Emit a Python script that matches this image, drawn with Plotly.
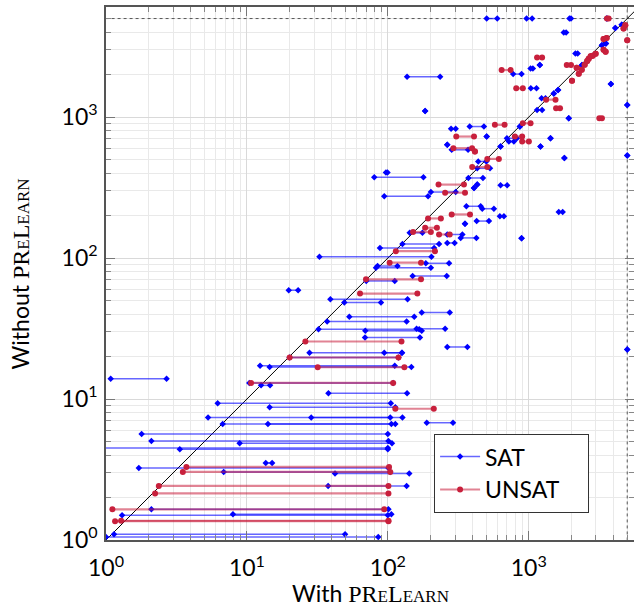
import plotly.graph_objects as go

TIMEOUT = 5000

# ---- SAT instances: time without PreLearn (y) and range of times with PreLearn (x) ----
sat_y = [1.05, 1.10, 1.50, 1.52, 1.65, 2.42, 3.04, 2.96, 3.24, 3.52,
         4.49, 4.40, 5.03, 4.85, 5.64, 6.64, 6.64, 6.79, 7.40, 7.40,
         8.75, 9.34, 11.0, 12.5, 13.0, 13.9, 17.2, 16.9, 19.7, 21.3,
         21.3, 22.5, 23.4, 27.3, 31.3, 30.5, 31.5, 35.5, 41.1, 38.3,
         51.1, 48.3, 59.1, 74.6, 68.8, 85.4, 87.8, 91.8, 102, 118,
         126, 128, 138, 147, 139, 151, 175, 183, 198, 212,
         224, 233, 274, 294, 314, 328, 332, 370, 374, 405,
         433, 485, 512, 534, 586, 619, 619, 636, 671, 708,
         708, 728, 826, 857, 857, 981, 1106, 1124, 1219, 1358,
         1473, 1557, 1599, 1718, 1933, 2019, 2213, 2339, 2825, 3325,
         3975, 4293, 5000, 5000, 5000, 5000, 2339, 3236, 4518]
sat_x_lo = [1.0, 1.14, 1.30, 7.96, 2.10, 37.7, 6.84, 42.2, 1.71, 13.6,
            0.9, 3.34, 2.10, 8.88, 1.79, 6.73, 14.1, 189, 5.30, 28.6,
            14.5, 6.2, 37.9, 12.6, 10.4, 1.08, 12.4, 14.5, 20.1, 27.8,
            94.3, 5000, 264, 68.9, 32.2, 69.2, 160, 37.1, 174, 53.3,
            39.1, 49.1, 19.8, 150, 70.3, 82.4, 84.6, 186, 32.7, 87.9,
            127, 264, 889, 264, 329, 143, 353, 427, 624, 1633,
            468, 361, 94.3, 202, 409, 631, 431, 373, 80.1, 97,
            431, 438, 1791, 5000, 284, 631, 1212, 264, 723, 700,
            1427, 503, 281, 381, 865, 1923, 184, 1146, 5000, 1233,
            1506, 1615, 1035, 3828, 137, 775, 1030, 1199, 2143, 3532,
            1772, 4114, 503, 965, 1944, 3586, 2388, 3306, 4571]
sat_x_hi = [85.5, 49.7, 100, 106, 101, 136, 104, 142, 101, 15.1,
            100, 100, 101, 107, 100, 106, 113, 290, 104, 127,
            113, 105, 137, 14.6, 109, 2.69, 112, 147, 119, 126,
            126, 5000, 367, 169, 167, 174, 255, 136, 275, 154,
            138, 89.4, 23.1, 262, 112, 202, 117, 272, 204, 213,
            231, 298, 889, 338, 425, 176, 353, 522, 667, 1742,
            566, 456, 193, 303, 409, 703, 431, 473, 179, 99.5,
            531, 500, 1791, 5000, 371, 631, 1212, 264, 784, 824,
            1427, 503, 303, 481, 865, 1923, 184, 1244, 5000, 1315,
            1506, 1615, 1135, 3828, 235, 889, 1070, 1199, 2225, 3532,
            1843, 4114, 598, 1057, 1995, 3586, 2388, 3306, 4571]

# ---- UNSAT instances ----
unsat_y = [1.65, 1.36, 1.37, 2.14, 2.42, 3.04, 3.30, 8.53, 13.0, 16.8,
           19.7, 25.6, 56.0, 70.7, 92.7, 112, 147, 153, 164, 191,
           204, 291, 332, 442, 505, 570, 602, 728, 728, 671,
           881, 904, 981, 1154, 1330, 1599, 1811, 2157, 2648, 2339,
           2590, 2721, 2811, 2168, 2237, 2350, 2029, 3586, 3645, 3000,
           2904, 4483, 4244, 3513, 5000, 2700, 2500]
unsat_x_lo = [1.11, 1.16, 1.28, 2.23, 2.37, 3.51, 3.72, 113, 10.7, 31.8,
              20.1, 26.0, 63.5, 70.0, 103, 114, 231, 151, 184, 193,
              284, 255, 229, 397, 508, 415, 292, 306, 797, 898,
              575, 908, 3170, 1563, 1328, 815, 2028, 642, 1146, 1862,
              2663, 2842, 2985, 2377, 2189, 2495, 2264, 3398, 3571, 3398,
              3513, 4842, 4710, 5000, 3590, 2750, 2600]
unsat_x_hi = [94.3, 101, 101, 101, 101, 104, 102, 212, 109, 131,
              119, 125, 162, 172, 172, 216, 275, 202, 223, 238,
              383, 353, 347, 508, 614, 415, 396, 409, 898, 1002,
              674, 1030, 3306, 1667, 1549, 908, 2028, 743, 1244, 1995,
              2663, 2842, 2985, 2377, 2189, 2495, 2264, 3398, 3571, 3398,
              3513, 4842, 4710, 5000, 3690, 2750, 2600]

major_ticks = [1, 10, 100, 1000]
major_text = ["10<sup>0</sup>", "10<sup>1</sup>", "10<sup>2</sup>", "10<sup>3</sup>"]
minor_ticks = [m * 10 ** k for k in range(4) for m in range(2, 10)]


def segments(ys, lo, hi):
    xs, yy = [], []
    for y, a, b in zip(ys, lo, hi):
        xs += [a, b, None]
        yy += [y, y, None]
    return xs, yy


fig = go.Figure()

# timeout lines
fig.add_trace(go.Scatter(x=[TIMEOUT, TIMEOUT], y=[0.5, 2e4], mode="lines",
                         line=dict(color="#555555", width=1, dash="dot"),
                         showlegend=False, hoverinfo="skip"))
fig.add_trace(go.Scatter(x=[0.5, 2e4], y=[TIMEOUT, TIMEOUT], mode="lines",
                         line=dict(color="#555555", width=1, dash="dot"),
                         showlegend=False, hoverinfo="skip"))
# diagonal
fig.add_trace(go.Scatter(x=[0.5, 2e4], y=[0.5, 2e4], mode="lines",
                         line=dict(color="black", width=1),
                         showlegend=False, hoverinfo="skip"))

NB = "\u00a0"
sx, sy = segments(sat_y, sat_x_lo, sat_x_hi)
fig.add_trace(go.Scatter(x=sx, y=sy, mode="lines+markers", name="SAT",
                         line=dict(color="rgba(0,0,255,0.6)", width=1.5),
                         marker=dict(symbol="diamond", size=5, color="#0000ff")))
ux, uy = segments(unsat_y, unsat_x_lo, unsat_x_hi)
fig.add_trace(go.Scatter(x=ux, y=uy, mode="lines+markers", name="UNSAT" + NB * 4,
                         line=dict(color="rgba(200,30,60,0.55)", width=2.2),
                         marker=dict(symbol="circle", size=6, color="#c8203c")))

serif = "'Liberation Serif', 'DejaVu Serif', serif"
def prelearn(big, small):
    return (f"<span style=\"font-family:{serif};font-size:{big}px\">PR</span>"
            f"<span style=\"font-family:{serif};font-size:{small}px\">E</span>"
            f"<span style=\"font-family:{serif};font-size:{big}px\">L</span>"
            f"<span style=\"font-family:{serif};font-size:{small}px\">EARN</span>")

axis_common = dict(
    type="log", showline=True, linecolor="#555555", linewidth=1.5, mirror="ticks",
    ticks="inside", ticklen=9, tickcolor="#777777", tickwidth=1,
    tickmode="array", tickvals=major_ticks, ticktext=major_text,
    showgrid=True, gridcolor="#d9d9d9", gridwidth=1, zeroline=False,
    automargin=False,
    tickfont=dict(size=23, color="black"),
    minor=dict(tickmode="array", tickvals=minor_ticks, ticks="inside", ticklen=5,
               tickcolor="#888888", showgrid=True, gridcolor="#e9e9e9", gridwidth=1),
)

fig.update_layout(
    width=634, height=607,
    margin=dict(l=106, r=0, t=7, b=67),
    paper_bgcolor="white", plot_bgcolor="white",
    font=dict(family="Lato, 'DejaVu Sans', sans-serif", color="black"),
    xaxis=dict(axis_common, range=[0, 3.747], ticklabelstandoff=7),
    yaxis=dict(axis_common, range=[0, 3.781], ticklabelstandoff=2),
    legend=dict(x=0.621, y=0.199, xanchor="left", yanchor="top",
                bgcolor="white", bordercolor="#333333", borderwidth=1.2,
                font=dict(size=23), tracegroupgap=0, itemwidth=40),
    showlegend=True,
    annotations=[
        dict(text="With " + prelearn(24, 17), xref="paper", yref="paper",
             x=0.5, y=-0.099, xanchor="center", yanchor="middle",
             showarrow=False, font=dict(size=23)),
        dict(text="Without " + prelearn(24, 17), xref="paper", yref="paper",
             x=-0.163, y=0.5, xanchor="center", yanchor="middle", textangle=-90,
             showarrow=False, font=dict(size=23)),
    ],
)

fig.write_html("out.html",
               config={"displayModeBar": False},
               post_script="document.body.style.margin='0';"
                           "document.body.style.overflow='hidden';"
                           "document.documentElement.style.overflow='hidden';")
